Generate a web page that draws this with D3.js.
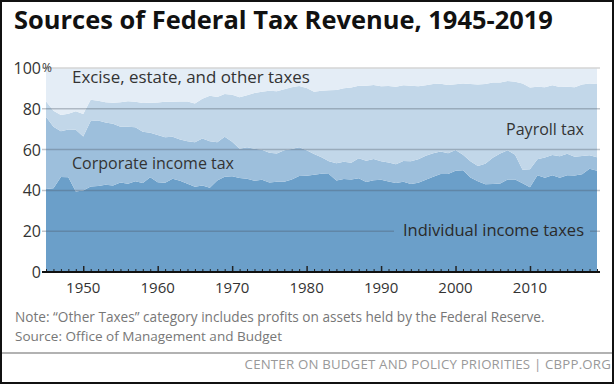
<!DOCTYPE html>
<html>
<head>
<meta charset="utf-8">
<script src="https://cdn.jsdelivr.net/npm/d3@7"></script>
<style>
  body { margin: 0; background: #fff; }
  svg { display: block; font-family: "Open Sans", Lato, sans-serif; }
</style>
</head>
<body>
<div id="chart"></div>
<script>
// data: share of federal receipts by source (%)
var years = d3.range(1945, 2020);

var individual = [40.7, 41.0, 46.6, 46.5, 39.5, 39.9, 41.9, 42.2, 42.8, 42.4,
    43.9, 43.2, 44.5, 43.6, 46.4, 44.0, 43.8, 45.7, 44.7, 43.2,
    41.8, 42.4, 41.3, 44.9, 46.7, 46.9, 46.1, 45.7, 44.7, 45.2,
    43.9, 44.2, 44.3, 45.3, 47.0, 47.2, 47.7, 48.2, 48.1, 44.8,
    45.6, 45.4, 46.0, 44.1, 45.0, 45.2, 44.4, 43.6, 44.2, 43.1,
    43.7, 45.2, 46.7, 48.1, 48.1, 49.6, 49.9, 46.3, 44.5, 43.0,
    43.1, 43.4, 45.3, 45.4, 43.5, 41.5, 47.4, 46.2, 47.4, 46.2,
    47.4, 47.3, 47.9, 50.6, 49.6];

var corporate = [35.4, 30.2, 22.4, 23.3, 30.2, 26.5, 32.1, 32.1, 30.5, 30.3,
    27.3, 28.0, 26.5, 25.2, 21.8, 23.2, 22.2, 20.6, 20.3, 20.9,
    21.8, 23.0, 22.8, 18.7, 19.6, 17.0, 14.3, 15.5, 15.7, 14.7,
    14.6, 13.9, 15.4, 15.0, 14.2, 12.5, 10.2, 8.0, 6.2, 8.5,
    8.4, 8.2, 9.8, 10.4, 10.4, 9.1, 9.3, 9.2, 10.2, 11.2,
    11.6, 11.8, 11.5, 11.0, 10.1, 10.2, 7.6, 8.0, 7.4, 10.1,
    12.9, 14.7, 14.4, 12.1, 6.6, 8.9, 7.9, 9.9, 9.9, 10.6,
    10.6, 9.2, 9.0, 6.6, 6.6];

var payroll = [7.6, 7.9, 7.9, 7.8, 9.1, 11.0, 10.4, 9.7, 9.9, 10.3,
    12.0, 12.5, 12.5, 14.1, 14.8, 15.9, 17.4, 17.1, 18.6, 19.5,
    19.0, 19.5, 22.3, 22.2, 20.9, 23.0, 25.3, 25.4, 27.3, 28.5,
    30.3, 30.5, 29.9, 30.3, 30.0, 30.5, 30.5, 32.6, 34.8, 35.9,
    36.1, 36.9, 35.5, 36.8, 36.3, 36.8, 37.5, 38.0, 37.1, 37.0,
    35.8, 34.6, 33.9, 33.2, 33.5, 32.2, 34.9, 37.8, 40.0, 39.0,
    36.9, 34.8, 33.9, 35.7, 42.3, 40.0, 35.5, 34.5, 34.2, 33.9,
    32.8, 34.1, 35.0, 35.2, 35.9];

var other = [16.3, 20.9, 23.1, 22.4, 21.2, 22.6, 15.6, 16.0, 16.8, 17.0,
    16.8, 16.3, 16.5, 17.1, 17.0, 16.9, 16.6, 16.6, 16.4, 16.4,
    17.4, 15.1, 13.6, 14.2, 12.8, 13.1, 14.3, 13.4, 12.3, 11.6,
    11.2, 11.4, 10.4, 9.4, 8.8, 9.8, 11.6, 11.2, 10.9, 10.8,
    9.9, 9.5, 8.7, 8.7, 8.3, 8.9, 8.8, 9.2, 8.5, 8.7,
    8.9, 8.4, 7.9, 7.7, 8.3, 8.0, 7.6, 7.9, 8.1, 7.9,
    7.1, 7.1, 6.4, 6.8, 7.6, 9.6, 9.2, 9.4, 8.5, 9.3,
    9.2, 9.4, 8.1, 7.6, 7.9];

var keys = ["individual", "corporate", "payroll", "other"];
var colors = ["#6b9fc9", "#9dbfdc", "#c2d7e9", "#e4edf6"];
var yTicks = [0, 20, 40, 60, 80, 100];
var xTicks = [1950, 1960, 1970, 1980, 1990, 2000, 2010];

var svgWidth = 615;
var svgHeight = 385;

var svg = d3.select("#chart")
    .append("svg")
    .attr("width", svgWidth)
    .attr("height", svgHeight);

// shrink or grow a text's font size until it spans the wanted width
function fitText(sel, width) {
    var size = +sel.attr("font-size");
    var len = sel.node().getComputedTextLength();
    if (size > 0 && len > 0) sel.attr("font-size", (size * width / len).toFixed(2));
    return sel;
}

// scales
var xScale = d3.scaleLinear()
    .domain([1945, 2019])
    .range([46, 597]);

var yScale = d3.scaleLinear()
    .domain([0, 100])
    .range([272, 68]);

// build rows for the stack
var rows = years.map(function(yr, i) {
    return {
        year: yr,
        individual: individual[i],
        corporate: corporate[i],
        payroll: payroll[i],
        other: other[i]
    };
});

var stack = d3.stack().keys(keys);
var series = stack(rows);

var area = d3.area()
    .x(d => xScale(d.data.year))
    .y0(d => yScale(d[0]))
    .y1(d => yScale(d[1]));

// title
var title = svg.append("text")
    .attr("x", 14)
    .attr("y", 29)
    .attr("font-size", 22)
    .attr("font-weight", "bold")
    .attr("fill", "#111")
    .text("Sources of Federal Tax Revenue, 1945-2019");
fitText(title, 539);

svg.append("g")
    .selectAll("path")
    .data(series)
    .enter()
    .append("path")
    .attr("d", area)
    .attr("fill", (d, i) => colors[i]);

// gridlines
svg.append("g")
    .selectAll("line")
    .data(yTicks.filter(d => d > 0))
    .enter()
    .append("line")
    .attr("x1", 42)
    .attr("x2", 600)
    .attr("y1", d => yScale(d))
    .attr("y2", d => yScale(d))
    .attr("stroke", d => d === 100 ? "#d4d4d4" : "#4d5a66")
    .attr("stroke-opacity", d => d === 100 ? 1 : 0.35)
    .attr("stroke-width", 1.5);

// y labels
svg.append("g")
    .selectAll("text")
    .data(yTicks)
    .enter()
    .append("text")
    .attr("x", 41)
    .attr("y", d => yScale(d) + 6)
    .attr("text-anchor", "end")
    .attr("font-size", 16)
    .attr("fill", "#333")
    .text(d => d);

svg.append("text")
    .attr("x", 42)
    .attr("y", yScale(100) + 4)
    .attr("font-size", 12)
    .attr("fill", "#333")
    .text("%");

// x axis with yearly minor ticks
var xAxis = d3.axisTop(xScale)
    .tickValues(years.filter(d => d % 10 !== 0))
    .tickSize(3)
    .tickFormat("");

var axisG = svg.append("g")
    .attr("transform", `translate(0, ${yScale(0)})`)
    .call(xAxis);
axisG.select(".domain").remove();
axisG.selectAll("line").attr("stroke", "#222");

var majorAxis = d3.axisTop(xScale)
    .tickValues(xTicks)
    .tickSize(6)
    .tickFormat("");

var majorG = svg.append("g")
    .attr("transform", `translate(0, ${yScale(0)})`)
    .call(majorAxis);
majorG.select(".domain").remove();
majorG.selectAll("line").attr("stroke", "#222").attr("stroke-width", 1.5);

svg.append("line")
    .attr("x1", 42)
    .attr("x2", 600)
    .attr("y1", yScale(0))
    .attr("y2", yScale(0))
    .attr("stroke", "#111")
    .attr("stroke-width", 2);

svg.append("g")
    .selectAll("text")
    .data(xTicks)
    .enter()
    .append("text")
    .attr("x", d => xScale(d))
    .attr("y", yScale(0) + 21)
    .attr("text-anchor", "middle")
    .attr("font-size", 15)
    .attr("fill", "#333")
    .text(d => d);

// series labels
var labelG = svg.append("g")
    .attr("fill", "#333");

fitText(labelG.append("text")
    .attr("x", 72)
    .attr("y", 83)
    .attr("font-size", 15)
    .text("Excise, estate, and other taxes"), 238);

labelG.append("text")
    .attr("x", 72)
    .attr("y", 169)
    .attr("font-size", 16)
    .text("Corporate income tax");

labelG.append("text")
    .attr("x", 584)
    .attr("y", 135)
    .attr("text-anchor", "end")
    .attr("font-size", 16)
    .text("Payroll tax");

// knock the gridline out behind this label
labelG.append("rect")
    .attr("x", 394)
    .attr("y", 222)
    .attr("width", 196)
    .attr("height", 20)
    .attr("fill", colors[0]);

fitText(labelG.append("text")
    .attr("x", 584)
    .attr("y", 236)
    .attr("text-anchor", "end")
    .attr("font-size", 15)
    .attr("fill", "#2a2a2a")
    .text("Individual income taxes"), 181);

// notes
fitText(svg.append("text")
    .attr("x", 15)
    .attr("y", 322)
    .attr("font-size", 12)
    .attr("fill", "#777")
    .text("Note: \u201cOther Taxes\u201d category includes profits on assets held by the Federal Reserve."), 530);

fitText(svg.append("text")
    .attr("x", 15)
    .attr("y", 341)
    .attr("font-size", 12)
    .attr("fill", "#777")
    .text("Source: Office of Management and Budget"), 267);

svg.append("line")
    .attr("x1", 1)
    .attr("x2", 614)
    .attr("y1", 353)
    .attr("y2", 353)
    .attr("stroke", "#999")
    .attr("stroke-width", 1.5);

fitText(svg.append("text")
    .attr("x", 611)
    .attr("y", 369)
    .attr("text-anchor", "end")
    .attr("font-size", 11.5)
    .attr("letter-spacing", 0.2)
    .attr("fill", "#999")
    .text("CENTER ON BUDGET AND POLICY PRIORITIES | CBPP.ORG"), 368);

// frame
svg.append("rect")
    .attr("x", 1)
    .attr("y", 1)
    .attr("width", 612)
    .attr("height", 382)
    .attr("fill", "none")
    .attr("stroke", "#111")
    .attr("stroke-width", 2);
</script>
</body>
</html>
